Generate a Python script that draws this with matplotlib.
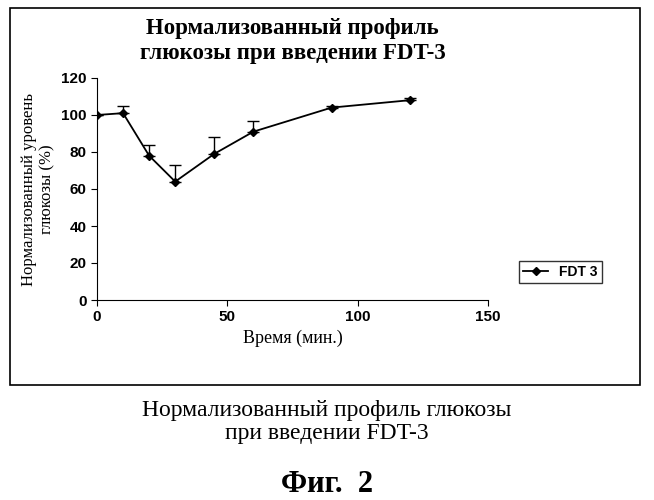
import matplotlib.pyplot as plt
from matplotlib.patches import Rectangle
from matplotlib.lines import Line2D
import numpy as np

time_min = [0, 10, 20, 30, 45, 60, 90, 120]
glucose = [100, 101, 78, 64, 79, 91, 104, 108]
err_up = [0, 4, 6, 9, 9, 6, 1, 1]

serif = "Liberation Serif"
sans = "Liberation Sans"

fig = plt.figure(figsize=(6.54, 5.0), dpi=100)
fig.patches.append(Rectangle((10/654, 1-385/500), 630/654, 377/500,
                             transform=fig.transFigure, fill=False,
                             edgecolor='black', lw=1.2))

ax = fig.add_axes([97/654, 0.4, 391/654, 0.444])
ax.errorbar(time_min, glucose, yerr=[np.zeros(len(err_up)), err_up],
            color='black', marker='D', markersize=4, lw=1.3,
            capsize=4, elinewidth=1)
ax.set_xlim(0, 150)
ax.set_ylim(0, 120)
ax.set_xticks([0, 50, 100, 150])
ax.set_yticks(range(0, 121, 20))
for lbl in ax.get_xticklabels() + ax.get_yticklabels():
    lbl.set_fontfamily(sans)
    lbl.set_fontweight('bold')
    lbl.set_fontsize(11)
ax.tick_params(direction='out', length=4)
for s in ['top', 'right']:
    ax.spines[s].set_visible(False)

ax.set_xlabel('Время (мин.)', fontfamily=serif, fontsize=13)
ax.set_ylabel('Нормализованный уровень\nглюкозы (%)', fontfamily=serif, fontsize=12)
ax.set_title('Нормализованный профиль\nглюкозы при введении FDT-3',
             fontfamily=serif, fontsize=16.5, fontweight='bold', pad=14)

handle = Line2D([], [], color='black', marker='D', markersize=4, lw=1.3)
fig.legend([handle], ['FDT 3'], loc='center left',
           bbox_to_anchor=(512/654, 1-272/500),
           prop={'family': sans, 'weight': 'bold', 'size': 10},
           fancybox=False, edgecolor='black', handlelength=1.8,
           borderpad=0.3)

fig.text(0.5, 1-422/500, 'Нормализованный профиль глюкозы\nпри введении FDT-3',
         ha='center', va='center', fontfamily=serif, fontsize=17, linespacing=1.1)
fig.text(0.5, 1-485/500, 'Фиг.  2', ha='center', va='center',
         fontfamily=serif, fontsize=22, fontweight='bold')

fig.savefig('out.png', dpi=100)
